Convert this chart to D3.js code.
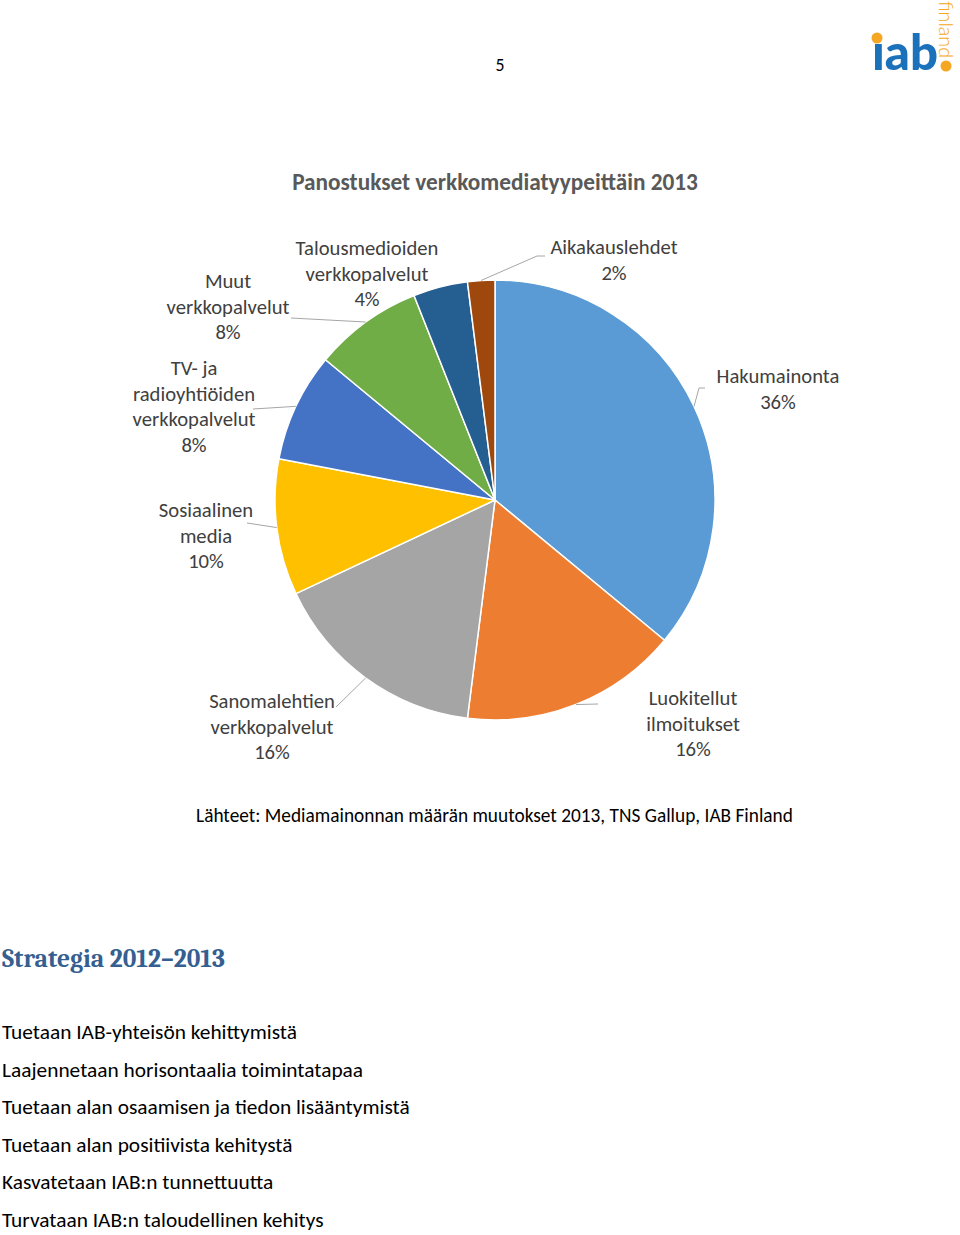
<!DOCTYPE html>
<html>
<head>
<meta charset="utf-8">
<script src="https://cdn.jsdelivr.net/npm/d3@7"></script>
<style>
  html, body { margin: 0; padding: 0; background: #fff; }
  svg { display: block; }
</style>
</head>
<body>
<svg id="chart" width="960" height="1235"></svg>
<script>
// ---------- DATA ----------
const categories = ["Hakumainonta", "Luokitellut ilmoitukset", "Sanomalehtien verkkopalvelut",
  "Sosiaalinen media", "TV- ja radioyhtiöiden verkkopalvelut", "Muut verkkopalvelut",
  "Talousmedioiden verkkopalvelut", "Aikakauslehdet"];
const values = [36, 16, 16, 10, 8, 8, 4, 2];
const labelLines = [
  ["Hakumainonta"],
  ["Luokitellut", "ilmoitukset"],
  ["Sanomalehtien", "verkkopalvelut"],
  ["Sosiaalinen", "media"],
  ["TV- ja", "radioyhtiöiden", "verkkopalvelut"],
  ["Muut", "verkkopalvelut"],
  ["Talousmedioiden", "verkkopalvelut"],
  ["Aikakauslehdet"]
];
const chartTitle = "Panostukset verkkomediatyypeittäin 2013";
const sourceText = "Lähteet: Mediamainonnan määrän muutokset 2013, TNS Gallup, IAB Finland";
const headingText = "Strategia 2012\u20132013";
const bulletItems = [
  "Tuetaan IAB-yhteisön kehittymistä",
  "Laajennetaan horisontaalia toimintatapaa",
  "Tuetaan alan osaamisen ja tiedon lisääntymistä",
  "Tuetaan alan positiivista kehitystä",
  "Kasvatetaan IAB:n tunnettuutta",
  "Turvataan IAB:n taloudellinen kehitys"
];
const pageNumber = "5";

// ---------- STYLE / LAYOUT ----------
const colors = ["#5B9BD5", "#ED7D31", "#A5A5A5", "#FFC000", "#4472C4", "#70AD47", "#255E91", "#9E480E"];
// label centre x, first-line centre y, leader start point (or null)
const labelLayout = [
  {x: 778, y: 377, lead: [[705, 388], [699, 388]]},
  {x: 693, y: 699, lead: [[598, 704]]},
  {x: 272, y: 702, lead: [[336, 707]]},
  {x: 206, y: 511, lead: [[247, 523]]},
  {x: 194, y: 369, lead: [[253, 409]]},
  {x: 228, y: 282, lead: [[291, 318]]},
  {x: 367, y: 249, lead: null},
  {x: 614, y: 248, lead: [[545, 256], [537, 256]]}
];
const sans = "Carlito, Calibri, Lato, 'Open Sans', sans-serif";
const serif = "Caladea, Cambria, 'Liberation Serif', 'DejaVu Serif', serif";

const svg = d3.select("#chart");

// measure helper: font size that gives target width
const meas = svg.append("text").attr("x", -1000).attr("y", -1000);
function fitSize(text, family, weight, target) {
  meas.attr("font-family", family).attr("font-weight", weight).attr("font-size", 100).text(text);
  const w = meas.node().getComputedTextLength();
  return 100 * target / w;
}

// ---------- PAGE NUMBER ----------
svg.append("text").attr("x", 500).attr("y", 71).attr("text-anchor", "middle")
  .attr("font-family", sans).attr("font-size", fitSize("5", sans, 400, 9)).attr("fill", "#000")
  .text(pageNumber);

// ---------- LOGO ----------
const logo = svg.append("g");
const iabSize = fitSize("\u0131ab", "Lato, sans-serif", 900, 66);
logo.append("text").attr("x", 872).attr("y", 70)
  .attr("font-family", "Lato, sans-serif").attr("font-weight", 900).attr("font-size", iabSize)
  .attr("fill", "#1C72BA").text("\u0131ab");
logo.append("circle").attr("cx", 877).attr("cy", 38).attr("r", 5.5).attr("fill", "#F5A623");
logo.append("text").attr("transform", "translate(939,1) rotate(90)")
  .attr("font-family", "Lato, sans-serif").attr("font-weight", 300)
  .attr("font-size", fitSize("finland", "Lato, sans-serif", 300, 57)).attr("fill", "#F5A623")
  .text("finland");
logo.append("circle").attr("cx", 946).attr("cy", 66).attr("r", 5.5).attr("fill", "#F5A623");

// ---------- TITLE ----------
svg.append("text").attr("x", 495).attr("y", 190).attr("text-anchor", "middle")
  .attr("font-family", sans).attr("font-weight", 700)
  .attr("font-size", fitSize(chartTitle, sans, 700, 406))
  .attr("fill", "#595959").text(chartTitle);

// ---------- PIE ----------
const cx = 495, cy = 500, R = 220;
const pie = d3.pie().sort(null).value(d => d)(values);
const arc = d3.arc().innerRadius(0).outerRadius(R);
const g = svg.append("g").attr("transform", `translate(${cx},${cy})`);
g.selectAll("path").data(pie).join("path")
  .attr("d", arc).attr("fill", (d, i) => colors[i])
  .attr("stroke", "#fff").attr("stroke-width", 1.5).attr("stroke-linejoin", "round");

// leader lines
pie.forEach((d, i) => {
  const L = labelLayout[i];
  if (!L.lead) return;
  const a = (d.startAngle + d.endAngle) / 2;
  const px = cx + R * Math.sin(a), py = cy - R * Math.cos(a);
  const pts = L.lead.concat([[px, py]]);
  svg.append("path").attr("d", d3.line()(pts))
    .attr("fill", "none").attr("stroke", "#A6A6A6").attr("stroke-width", 1);
});

// labels
const labSize = fitSize("verkkopalvelut", sans, 400, 123);
labelLayout.forEach((L, i) => {
  const lines = labelLines[i].concat([values[i] + "%"]);
  const t = svg.append("text").attr("text-anchor", "middle")
    .attr("font-family", sans).attr("font-size", labSize).attr("fill", "#404040");
  lines.forEach((ln, k) => {
    t.append("tspan").attr("x", L.x).attr("y", L.y + 6 + k * 25.5).text(ln);
  });
});

// ---------- SOURCE ----------
svg.append("text").attr("x", 196).attr("y", 822)
  .attr("font-family", sans).attr("font-size", fitSize(sourceText, sans, 400, 597))
  .attr("fill", "#000").text(sourceText);

// ---------- HEADING ----------
svg.append("text").attr("x", 2).attr("y", 967)
  .attr("font-family", serif).attr("font-weight", 700)
  .attr("font-size", fitSize(headingText, serif, 700, 223))
  .attr("fill", "#365F91").text(headingText);

// ---------- BULLETS ----------
const bodySize = fitSize(bulletItems[2], sans, 400, 408);
svg.selectAll("text.item").data(bulletItems).join("text").attr("class", "item")
  .attr("x", 2).attr("y", (d, i) => 1039 + i * 37.6)
  .attr("font-family", sans).attr("font-size", bodySize).attr("fill", "#000")
  .text(d => d);

meas.remove();
</script>
</body>
</html>
